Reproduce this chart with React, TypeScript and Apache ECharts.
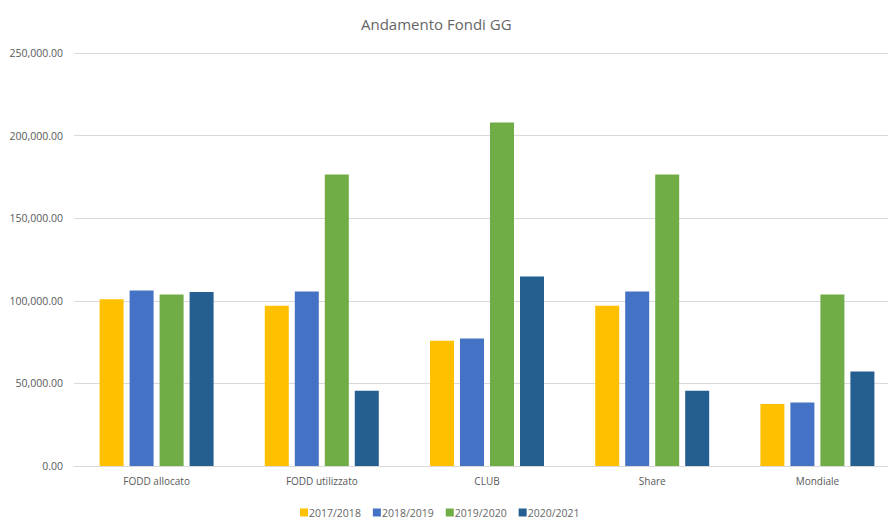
import React, { useEffect, useRef } from "react";
import * as echarts from "echarts";

const categories = ["FODD allocato", "FODD utilizzato", "CLUB", "Share", "Mondiale"];
const seriesNames = ["2017/2018", "2018/2019", "2019/2020", "2020/2021"];
const s1718 = [101000, 97000, 75800, 97000, 37600];
const s1819 = [106200, 105600, 77200, 105600, 38400];
const s1920 = [103800, 176400, 208000, 176400, 103800];
const s2021 = [105400, 45600, 114700, 45600, 57200];
const colors = ["#FFC000", "#4472C4", "#70AD47", "#255E91"];

export default function App() {
  const ref = useRef<HTMLDivElement>(null);
  useEffect(() => {
    if (!ref.current) return;
    const chart = echarts.init(ref.current, null, { renderer: "svg" });
    const data = [s1718, s1819, s1920, s2021];
    chart.setOption({
      animation: false,
      color: colors,
      textStyle: { fontFamily: "'Open Sans', 'DejaVu Sans', sans-serif" },
      title: {
        text: "Andamento Fondi GG",
        left: 356,
        top: 11,
        textStyle: { fontSize: 15, fontWeight: "normal", color: "#666666" },
      },
      legend: {
        bottom: 1,
        left: 295,
        itemWidth: 8,
        itemHeight: 8,
        itemGap: 12,
        icon: "rect",
        textStyle: { fontSize: 10.5, color: "#666666", padding: [0, 0, 0, -4] },
        data: seriesNames,
      },
      grid: {
        left: 74,
        width: 826,
        top: 53,
        bottom: 58,
        containLabel: false,
        outerBoundsMode: "none",
      },
      xAxis: {
        type: "category",
        data: categories,
        axisTick: { show: false },
        axisLine: { lineStyle: { color: "#D9D9D9" } },
        axisLabel: { fontSize: 10, color: "#595959", margin: 10 },
      },
      yAxis: {
        type: "value",
        min: 0,
        max: 250000,
        interval: 50000,
        axisLine: { show: false },
        axisTick: { show: false },
        splitLine: { lineStyle: { color: "#D9D9D9" } },
        axisLabel: {
          fontSize: 10.5,
          color: "#595959",
          margin: 11,
          formatter: (v: number) =>
            v.toLocaleString("en-US", { minimumFractionDigits: 2, maximumFractionDigits: 2 }),
        },
      },
      series: seriesNames.map((name, i) => ({
        name,
        type: "bar",
        data: data[i],
        barGap: "25%",
        barCategoryGap: "31%",
      })),
    });
    return () => chart.dispose();
  }, []);
  return <div ref={ref} style={{ width: 888, height: 524, position: "absolute", left: 0, top: 0 }} />;
}
